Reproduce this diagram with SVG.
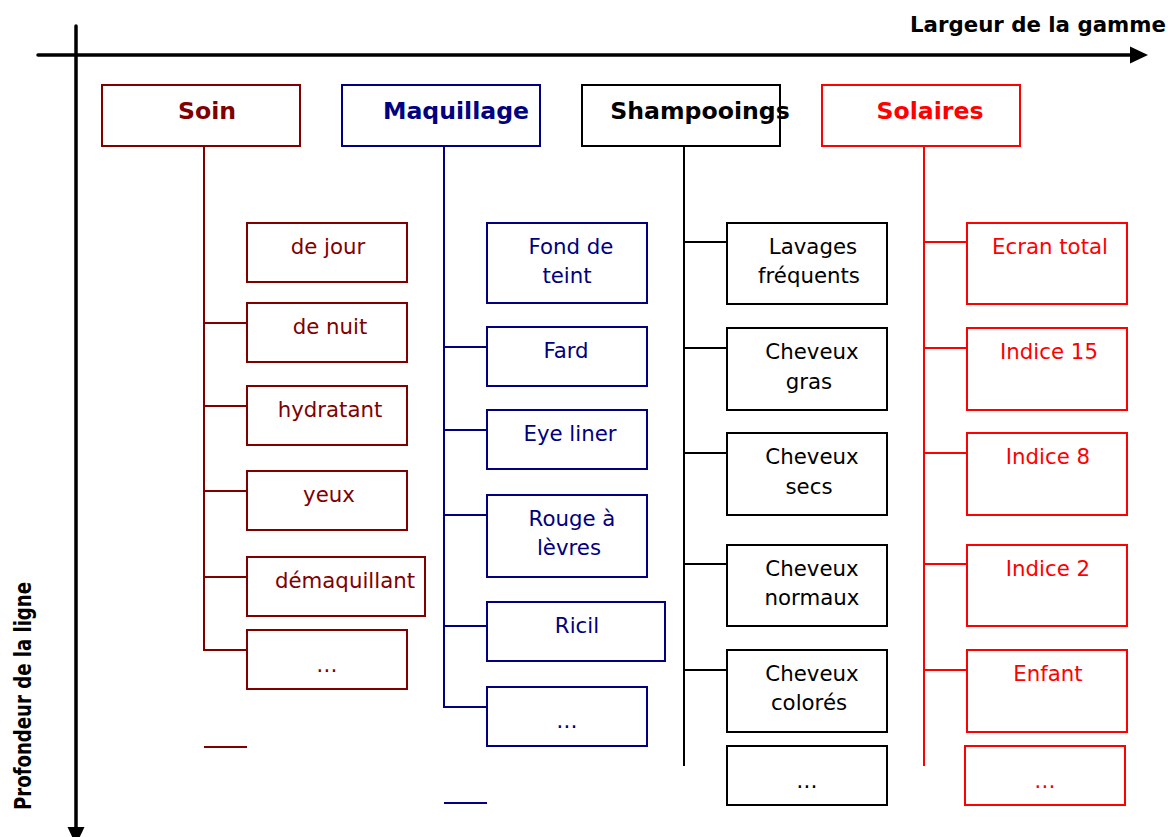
<svg xmlns="http://www.w3.org/2000/svg" width="1168" height="837" viewBox="0 0 1168 837">
<style>
text{font-family:"DejaVu Sans","Liberation Sans",sans-serif;font-size:21.3px;text-anchor:middle}
.h{font-weight:bold;font-size:23.6px}
.box{fill:#fff;stroke-width:2}
.ln{fill:none;stroke-width:2}
.axis{stroke:#000;stroke-width:3.5;fill:none;stroke-linecap:round}
.c1{stroke:#800000}.t1{fill:#800000}
.c2{stroke:#000080}.t2{fill:#000080}
.c3{stroke:#000}.t3{fill:#000}
.c4{stroke:#ff0000}.t4{fill:#ff0000}
</style>
<g id="axes">
<line class="axis" x1="38" y1="55" x2="1132" y2="55"/>
<polygon points="1130,46.5 1148,55 1130,63.5" fill="#000"/>
<line class="axis" x1="76" y1="26" x2="76" y2="829"/>
<polygon points="67.5,827 84.5,827 76,845" fill="#000"/>
<text x="910" y="32" style="font-weight:bold;text-anchor:start">Largeur de la gamme</text>
<text transform="translate(30.5,810) rotate(-90)" textLength="228" lengthAdjust="spacingAndGlyphs" style="font-weight:bold;font-size:23px;text-anchor:start">Profondeur de la ligne</text>
</g>
<g id="connectors">
<path class="ln c1" d="M204,146V650H247M204,323H247M204,406H247M204,491H247M204,577H247M204,747H247"/>
<path class="ln c2" d="M444,146V707H487M444,347H487M444,430H487M444,515H487M444,626H487M444,803H487"/>
<path class="ln c3" d="M684,146V766M684,242H727M684,348H727M684,453H727M684,564H727M684,670H727"/>
<path class="ln c4" d="M924,146V766M924,242H967M924,348H967M924,453H967M924,564H967M924,670H967"/>
</g>
<g id="soin"><rect class="box c1" x="102" y="85" width="198" height="61"/><text class="h t1" x="207" y="119">Soin</text></g>
<g id="maquillage"><rect class="box c2" x="342" y="85" width="198" height="61"/><text class="h t2" x="456" y="119">Maquillage</text></g>
<g id="shampooings"><rect class="box c3" x="582" y="85" width="198" height="61"/><text class="h t3" x="700" y="119">Shampooings</text></g>
<g id="solaires"><rect class="box c4" x="822" y="85" width="198" height="61"/><text class="h t4" x="930" y="119">Solaires</text></g>

<g id="de-jour"><rect class="box c1" x="247" y="223" width="160" height="59"/><text class="t1" x="328" y="254">de jour</text></g>
<g id="de-nuit"><rect class="box c1" x="247" y="303" width="160" height="59"/><text class="t1" x="330" y="334">de nuit</text></g>
<g id="hydratant"><rect class="box c1" x="247" y="386" width="160" height="59"/><text class="t1" x="330" y="417">hydratant</text></g>
<g id="yeux"><rect class="box c1" x="247" y="471" width="160" height="59"/><text class="t1" x="329" y="502">yeux</text></g>
<g id="demaquillant"><rect class="box c1" x="247" y="557" width="178" height="59"/><text class="t1" x="345" y="588">démaquillant</text></g>
<g id="soin-etc"><rect class="box c1" x="247" y="630" width="160" height="59"/><text class="t1" x="327" y="672">…</text></g>

<g id="fond-de-teint"><rect class="box c2" x="487" y="223" width="160" height="80"/><text class="t2" x="571" y="254">Fond de</text><text class="t2" x="567" y="283">teint</text></g>
<g id="fard"><rect class="box c2" x="487" y="327" width="160" height="59"/><text class="t2" x="566" y="358">Fard</text></g>
<g id="eye-liner"><rect class="box c2" x="487" y="410" width="160" height="59"/><text class="t2" x="570" y="441">Eye liner</text></g>
<g id="rouge"><rect class="box c2" x="487" y="495" width="160" height="82"/><text class="t2" x="572" y="526">Rouge à</text><text class="t2" x="569" y="555">lèvres</text></g>
<g id="ricil"><rect class="box c2" x="487" y="602" width="178" height="59"/><text class="t2" x="577" y="633">Ricil</text></g>
<g id="maquillage-etc"><rect class="box c2" x="487" y="687" width="160" height="59"/><text class="t2" x="567" y="728">…</text></g>

<g id="lavages"><rect class="box c3" x="727" y="223" width="160" height="81"/><text class="t3" x="813" y="254">Lavages</text><text class="t3" x="809" y="283">fréquents</text></g>
<g id="gras"><rect class="box c3" x="727" y="328" width="160" height="82"/><text class="t3" x="812" y="359">Cheveux</text><text class="t3" x="809" y="389">gras</text></g>
<g id="secs"><rect class="box c3" x="727" y="433" width="160" height="82"/><text class="t3" x="812" y="464">Cheveux</text><text class="t3" x="809" y="494">secs</text></g>
<g id="normaux"><rect class="box c3" x="727" y="545" width="160" height="81"/><text class="t3" x="812" y="576">Cheveux</text><text class="t3" x="812" y="605">normaux</text></g>
<g id="colores"><rect class="box c3" x="727" y="650" width="160" height="82"/><text class="t3" x="812" y="681">Cheveux</text><text class="t3" x="809" y="710">colorés</text></g>
<g id="shampooings-etc"><rect class="box c3" x="727" y="746" width="160" height="59"/><text class="t3" x="807" y="788">…</text></g>

<g id="ecran"><rect class="box c4" x="967" y="223" width="160" height="81"/><text class="t4" x="1050" y="254">Ecran total</text></g>
<g id="indice15"><rect class="box c4" x="967" y="328" width="160" height="82"/><text class="t4" x="1049" y="359">Indice 15</text></g>
<g id="indice8"><rect class="box c4" x="967" y="433" width="160" height="82"/><text class="t4" x="1048" y="464">Indice 8</text></g>
<g id="indice2"><rect class="box c4" x="967" y="545" width="160" height="81"/><text class="t4" x="1048" y="576">Indice 2</text></g>
<g id="enfant"><rect class="box c4" x="967" y="650" width="160" height="82"/><text class="t4" x="1048" y="681">Enfant</text></g>
<g id="solaires-etc"><rect class="box c4" x="965" y="746" width="160" height="59"/><text class="t4" x="1045" y="788">…</text></g>
</svg>
